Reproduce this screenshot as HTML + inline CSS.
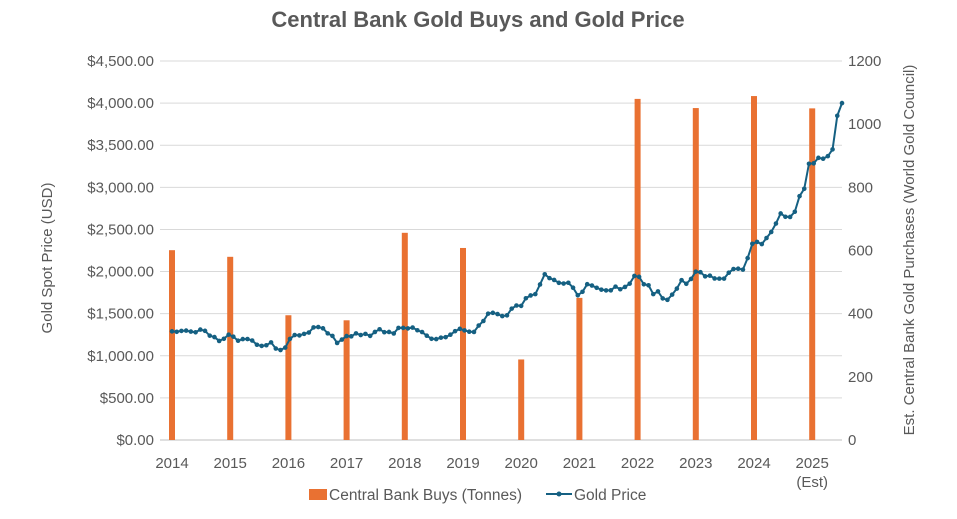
<!DOCTYPE html>
<html><head><meta charset="utf-8"><style>
body{margin:0;background:#fff;font-family:"Liberation Sans",sans-serif;}
svg text{font-family:"Liberation Sans",sans-serif;fill:#595959;}
</style></head><body>
<svg id="c" width="957" height="514">
<text x="478" y="27" text-anchor="middle" font-size="22" font-weight="bold">Central Bank Gold Buys and Gold Price</text>
<text transform="translate(52,258) rotate(-90)" text-anchor="middle" font-size="15">Gold Spot Price (USD)</text>
<text transform="translate(914,250) rotate(-90)" text-anchor="middle" font-size="15">Est. Central Bank Gold Purchases (World Gold Council)</text>
<g id="grid"></g><g id="bars"></g><g id="line"></g><g id="axes"></g>
<g>
<rect x="309" y="489" width="18" height="11" fill="#E97132"/>
<text x="329" y="500" font-size="15.5">Central Bank Buys (Tonnes)</text>
<line x1="546" y1="494" x2="572" y2="494" stroke="#156082" stroke-width="2"/>
<circle cx="559" cy="494" r="2.5" fill="#156082"/>
<text x="574" y="500" font-size="15.5">Gold Price</text>
</g>
</svg>
<script>
const years=["2014","2015","2016","2017","2018","2019","2020","2021","2022","2023","2024","2025"];
const buys=[601,580,395,379,656,608,255,450,1080,1051,1089,1050];
const leftTicks=[0,500,1000,1500,2000,2500,3000,3500,4000,4500];
const rightTicks=[0,200,400,600,800,1000,1200];
const price=[1290,1285,1295,1299,1287,1279,1311,1296,1239,1222,1176,1202,
1251,1227,1179,1198,1199,1181,1131,1117,1125,1159,1086,1068,
1097,1200,1246,1242,1260,1276,1337,1341,1326,1266,1236,1152,
1192,1234,1231,1266,1246,1260,1236,1283,1315,1280,1283,1265,
1331,1331,1325,1335,1303,1282,1238,1202,1198,1215,1221,1250,
1292,1320,1301,1286,1283,1359,1413,1500,1510,1495,1471,1480,
1560,1597,1592,1683,1716,1732,1847,1968,1922,1900,1866,1858,
1867,1808,1718,1760,1850,1834,1807,1785,1776,1777,1821,1790,
1817,1856,1948,1937,1849,1837,1732,1764,1681,1664,1726,1798,
1898,1855,1912,1999,1992,1943,1951,1918,1916,1916,1986,2030,
2034,2023,2160,2330,2352,2326,2398,2470,2570,2690,2650,2648,
2710,2895,2983,3280,3285,3350,3340,3370,3450,3850,4000];
const NS="http://www.w3.org/2000/svg";
const X0=172,YS=58.2,Y0=440,YT=61,PX1=842;
const xYear=i=>X0+i*YS;
const yL=v=>Y0-v/4500*(Y0-YT);
const yR=v=>Y0-v/1200*(Y0-YT);
const xP=i=>X0+i*(PX1-X0)/(price.length-1);
function mk(t,a,p){const e=document.createElementNS(NS,t);for(const k in a)e.setAttribute(k,a[k]);p.appendChild(e);return e;}
const grid=document.getElementById('grid'),axes=document.getElementById('axes');
leftTicks.forEach(v=>{
 const l=mk('line',{x1:160,x2:842,y1:yL(v),y2:yL(v),stroke:v===0?'#BFBFBF':'#D9D9D9','stroke-width':1},grid);
 
 
 const t=mk('text',{x:154,y:yL(v)+5,'text-anchor':'end','font-size':15},axes);
 t.textContent='$'+v.toLocaleString('en-US',{minimumFractionDigits:2});
 
 
});
rightTicks.forEach(v=>{
 const t=mk('text',{x:848,y:yR(v)+5,'font-size':15},axes);
 t.textContent=v;
 
 
});
years.forEach((y,i)=>{
 const t=mk('text',{x:xYear(i),y:468,'text-anchor':'middle','font-size':15},axes);
 t.textContent=y;
 
 
});
const est=mk('text',{x:xYear(11),y:487,'text-anchor':'middle','font-size':15},axes);
est.textContent='(Est)';


const bars=document.getElementById('bars');
buys.forEach((v,i)=>{
 const r=mk('rect',{x:xYear(i)-3,y:yR(v),width:6,height:Y0-yR(v),fill:'#E97132'},bars);
 
 
});
const lg=document.getElementById('line');
const pl=mk('polyline',{points:price.map((v,i)=>xP(i)+','+yL(v)).join(' '),fill:'none',stroke:'#156082','stroke-width':2},lg);


price.forEach((v,i)=>{
 const c=mk('circle',{cx:xP(i),cy:yL(v),r:2.3,fill:'#156082'},lg);
 
 
});
</script>
</body></html>
